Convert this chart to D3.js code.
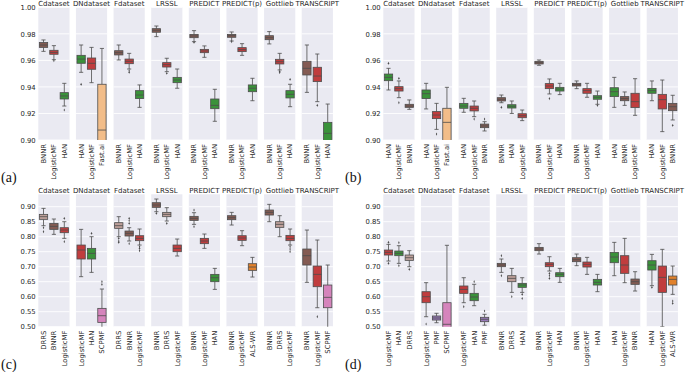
<!DOCTYPE html>
<html><head><meta charset="utf-8">
<script src="https://cdn.jsdelivr.net/npm/d3@7"></script>
<style>body{margin:0;background:#fff}svg{display:block}</style>
</head><body>
<svg id="c" width="685" height="372"></svg>
<script>
// ---------- DATA ----------
const facetNames = ["Cdataset","DNdataset","Fdataset","LRSSL","PREDICT","PREDICT(p)","Gottlieb","TRANSCRIPT"];
const ticksAB = [0.90,0.92,0.94,0.96,0.98,1.00];
const ticksCD = [0.50,0.55,0.60,0.65,0.70,0.75,0.80,0.85,0.90];

// stats: [whiskerLow, q1, median, q3, whiskerHigh]
const methodsA = [["BNNR","LogisticMF","HAN"],["HAN","LogisticMF","Fast.ai"],["BNNR","LogisticMF","HAN"],["BNNR","LogisticMF","HAN"],["BNNR","LogisticMF","HAN"],["BNNR","LogisticMF","HAN"],["BNNR","LogisticMF","HAN"],["BNNR","LogisticMF","HAN"]];
const statsA = [
 [[0.9668,0.9698,0.9716,0.9734,0.9754],[0.9605,0.9646,0.966,0.9676,0.9711],[0.9256,0.9309,0.9332,0.9357,0.9427]],
 [[0.951,0.9578,0.961,0.9638,0.9716],[0.9432,0.9533,0.9578,0.9618,0.9698],[0.85,0.88,0.9075,0.942,0.969]],
 [[0.9603,0.9641,0.9658,0.9673,0.9716],[0.9535,0.9575,0.9593,0.961,0.9653],[0.9246,0.9312,0.9339,0.9372,0.9415]],
 [[0.9779,0.9812,0.9827,0.9839,0.9859],[0.9515,0.955,0.9568,0.9583,0.9616],[0.939,0.9432,0.9452,0.9472,0.9535]],
 [[0.9741,0.9771,0.9784,0.9796,0.9824],[0.9623,0.9658,0.9671,0.9683,0.9709],[0.9141,0.9236,0.9261,0.9309,0.9382]],
 [[0.9746,0.9774,0.9786,0.9796,0.9814],[0.9638,0.9666,0.9681,0.9696,0.9726],[0.9296,0.9364,0.939,0.9415,0.9465]],
 [[0.9724,0.9756,0.9771,0.9786,0.9817],[0.9528,0.9573,0.959,0.9608,0.9653],[0.9251,0.9317,0.9344,0.9372,0.942]],
 [[0.9359,0.949,0.954,0.9593,0.9716],[0.9289,0.944,0.9482,0.9548,0.9648],[0.87,0.893,0.905,0.9133,0.9271]]
];
const outliersA = [
 [[],[0.9598],[0.9226]],[[0.942],[],[]],[[],[0.9522,0.951],[]],[[],[0.9503],[]],
 [[0.9736],[],[]],[[0.9741],[],[]],[[],[0.9518,0.9508],[0.9457]],[[],[0.9261],[]]
];

const methodsB = [["HAN","LogisticMF","BNNR"],["HAN","LogisticMF","Fast.ai"],["HAN","LogisticMF","BNNR"],["BNNR","HAN","LogisticMF"],["BNNR","LogisticMF","HAN"],["BNNR","LogisticMF","HAN"],["HAN","BNNR","LogisticMF"],["HAN","LogisticMF","BNNR"]];
const statsB = [
 [[0.9377,0.9447,0.9472,0.9497,0.954],[0.9319,0.9369,0.9387,0.9402,0.9445],[0.9231,0.9246,0.9256,0.9269,0.9302]],
 [[0.9234,0.9312,0.9349,0.9377,0.9427],[0.908,0.9161,0.9188,0.9214,0.9276],[0.86,0.885,0.9133,0.9239,0.9397]],
 [[0.9209,0.9239,0.9256,0.9276,0.9314],[0.9176,0.9219,0.9239,0.9256,0.9294],[0.9068,0.9093,0.9106,0.912,0.9138]],
 [[0.9281,0.9294,0.9307,0.9319,0.9339],[0.92,0.9241,0.9254,0.9266,0.9294],[0.9146,0.9168,0.9183,0.9198,0.9226]],
 [[0.9563,0.9573,0.9583,0.9593,0.9603],[0.9347,0.9387,0.9407,0.9425,0.946],[0.9342,0.9369,0.9384,0.9397,0.9427]],
 [[0.9387,0.9407,0.9417,0.9427,0.9445],[0.9322,0.9352,0.9372,0.9387,0.9427],[0.9269,0.9307,0.9322,0.9334,0.9369]],
 [[0.9246,0.9327,0.9364,0.9394,0.9472],[0.9261,0.9296,0.9312,0.9327,0.9362],[0.9186,0.9244,0.9289,0.9352,0.9462]],
 [[0.9296,0.9352,0.9372,0.9389,0.9445],[0.9063,0.9234,0.9304,0.9344,0.9452],[0.9151,0.9221,0.9251,0.9276,0.9337]]
];
const outliersB = [
 [[0.9578],[0.9465,0.9281],[]],[[],[0.9045],[]],[[],[0.9158],[0.9158]],[[0.9246],[],[]],
 [[],[0.9312],[]],[[],[],[0.926]],[[],[],[]],[[],[],[0.9111]]
];

const methodsC = [["DRRS","BNNR","LogisticMF"],["LogisticMF","HAN","SCPMF"],["DRRS","BNNR","LogisticMF"],["BNNR","DRRS","LogisticMF"],["BNNR","LogisticMF","HAN"],["BNNR","LogisticMF","ALS-WR"],["BNNR","DRRS","LogisticMF"],["BNNR","LogisticMF","SCPMF"]];
const statsC = [
 [[0.8367,0.8578,0.8667,0.8744,0.8944],[0.8078,0.8244,0.8344,0.8444,0.8589],[0.7944,0.8133,0.8222,0.83,0.85]],
 [[0.6667,0.7256,0.7556,0.7722,0.8244],[0.6811,0.7256,0.7444,0.7611,0.80],[0.45,0.5144,0.5367,0.5611,0.6256]],
 [[0.80,0.8278,0.8367,0.8467,0.8667],[0.7856,0.8022,0.8111,0.8189,0.83],[0.7722,0.7867,0.7944,0.8033,0.8256]],
 [[0.8833,0.8978,0.9056,0.9133,0.9256],[0.8522,0.8667,0.8744,0.8811,0.8967],[0.7356,0.75,0.7611,0.7722,0.7922]],
 [[0.8411,0.8544,0.8611,0.8678,0.88],[0.7611,0.7767,0.7856,0.7944,0.8089],[0.6244,0.65,0.6633,0.6744,0.6944]],
 [[0.8389,0.8567,0.8633,0.87,0.8811],[0.77,0.7878,0.7956,0.8033,0.82],[0.6656,0.6878,0.6989,0.71,0.7311]],
 [[0.85,0.8722,0.8811,0.8889,0.9078],[0.80,0.8311,0.8411,0.85,0.87],[0.7722,0.7867,0.7944,0.8044,0.8256]],
 [[0.6478,0.7056,0.7367,0.7589,0.8222],[0.5633,0.6333,0.6744,0.7022,0.7889],[0.45,0.5633,0.5978,0.6389,0.7056]]
];
const outliersC = [
 [[0.83,0.8167],[],[0.8611,0.7833]],[[],[0.8111],[0.65,0.641]],
 [[0.7944,0.7856,0.7811],[0.8611,0.8533,0.8444,0.7767],[0.7667,0.7611,0.7533]],
 [[0.8778],[0.8444],[]],[[0.8889,0.8333],[],[]],[[],[],[]],
 [[],[],[0.7667,0.7589,0.75]],[[],[0.5333],[]]
];

const methodsD = [["LogisticMF","HAN","DRRS"],["LogisticMF","PMF","SCPMF"],["LogisticMF","HAN","PMF"],["BNNR","DRRS","HAN"],["BNNR","LogisticMF","HAN"],["BNNR","LogisticMF","HAN"],["HAN","LogisticMF","BNNR"],["HAN","LogisticMF","ALS-WR"]];
const statsD = [
 [[0.7189,0.7389,0.7478,0.7556,0.7744],[0.7111,0.7367,0.7444,0.7522,0.77],[0.70,0.7211,0.73,0.7389,0.7533]],
 [[0.5333,0.58,0.60,0.6167,0.6467],[0.5133,0.5222,0.529,0.5357,0.5446],[0.45,0.48,0.508,0.58,0.7713]],
 [[0.58,0.6112,0.6243,0.6357,0.6633],[0.57,0.5867,0.599,0.6112,0.6413],[0.505,0.5167,0.5247,0.5313,0.5413]],
 [[0.6811,0.70,0.7056,0.7111,0.7256],[0.6144,0.65,0.6611,0.67,0.6944],[0.6144,0.6311,0.6389,0.6444,0.6633]],
 [[0.7422,0.7533,0.7589,0.7644,0.7767],[0.6856,0.70,0.7078,0.7133,0.7333],[0.6478,0.6667,0.6744,0.68,0.6944]],
 [[0.7033,0.7167,0.7233,0.73,0.7422],[0.6744,0.6989,0.7078,0.7156,0.7311],[0.6167,0.6389,0.6478,0.6578,0.6744]],
 [[0.67,0.7133,0.7322,0.7478,0.7811],[0.6467,0.6778,0.7056,0.7367,0.7944],[0.6189,0.6411,0.65,0.6589,0.6833]],
 [[0.6367,0.6889,0.7056,0.72,0.7411],[0.50,0.6144,0.6644,0.7022,0.7578],[0.6078,0.6389,0.6578,0.6689,0.7022]]
];
const outliersD = [
 [[0.7811,0.7111],[0.78,0.7033],[0.6911]],[[0.509],[],[]],[[0.5667],[0.65],[0.5523]],
 [[0.7367,0.67],[0.60],[0.6078,0.5944]],[[],[0.6778,0.67,0.6611],[]],[[],[],[]],
 [[],[],[]],[[0.6311],[],[0.5856,0.5778]]
];

const methodNames = ["BNNR","LogisticMF","HAN","Fast.ai","DRRS","SCPMF","ALS-WR","PMF"];
const methodColors = ["#845b53","#c03d3e","#3a923a","#f2bd89","#bea09a","#d584bc","#e1812c","#9678b8"];

// ---------- DRAW ----------
const svg = d3.select("#c");
const color = d3.scaleOrdinal().domain(methodNames).range(methodColors);
const lineCol = "#4d4d4d";
const FONT = "DejaVu Sans, sans-serif";

const panels = [
 {id:"a", label:"(a)", lx:1, ly:182, methods:methodsA, stats:statsA, outl:outliersA, dom:[0.90,1.00], ticks:ticksAB, x0:38.3, top:7.3, bottom:140},
 {id:"b", label:"(b)", lx:345, ly:182, methods:methodsB, stats:statsB, outl:outliersB, dom:[0.90,1.00], ticks:ticksAB, x0:383.3, top:7.3, bottom:140},
 {id:"c", label:"(c)", lx:1, ly:369, methods:methodsC, stats:statsC, outl:outliersC, dom:[0.50,0.9413], ticks:ticksCD, x0:38.3, top:194.3, bottom:326.7},
 {id:"d", label:"(d)", lx:345, ly:369, methods:methodsD, stats:statsD, outl:outliersD, dom:[0.50,0.9413], ticks:ticksCD, x0:383.3, top:194.3, bottom:326.7}
];

const step = 37.63, fw = 31.2;
const defs = svg.append("defs");
panels.forEach(p => {
  const g = svg.append("g");
  const y = d3.scaleLinear().domain(p.dom).range([p.bottom, p.top]);
  const fx = d3.scaleBand().domain(facetNames).range([p.x0, p.x0 + 7*step + fw]).paddingInner((step-fw)/step).paddingOuter(0);
  const bx = d3.scaleBand().domain([0,1,2]).range([0, fx.bandwidth()]).paddingInner(0.2).paddingOuter(0.1);
  const clipId = "clip-" + p.id;
  defs.append("clipPath").attr("id", clipId).attr("clipPathUnits","userSpaceOnUse").append("rect")
    .attr("x", p.x0 - 4).attr("y", p.top).attr("width", 8*step + 8).attr("height", p.bottom - p.top);

  const bg = g.append("g");
  const boxLayer = g.append("g").attr("clip-path",`url(#${clipId})`);
  const bwid = fx.bandwidth();
  facetNames.forEach((f, fi) => {
    const ox = fx(f);
    bg.append("rect").attr("x",ox).attr("y",p.top).attr("width",bwid).attr("height",p.bottom-p.top).attr("fill","#eaeaf2");
    p.ticks.forEach(t => {
      bg.append("line").attr("x1",ox).attr("x2",ox+bwid).attr("y1",y(t)).attr("y2",y(t))
        .attr("stroke","#ffffff").attr("stroke-width",0.9);
    });
    g.append("text").attr("x",ox+bwid/2).attr("y",p.top-1.6).attr("text-anchor","middle")
      .attr("font-family",FONT).attr("font-size",7).attr("fill","#262626").text(f);

    const bw = bx.bandwidth();
    p.methods[fi].forEach((m, mi) => {
      const s = p.stats[fi][mi];
      const left = ox + bx(mi);
      const cx = left + bw/2;
      const bgp = boxLayer.append("g");
      bgp.append("line").attr("x1",cx).attr("x2",cx).attr("y1",y(s[4])).attr("y2",y(s[3])).attr("stroke",lineCol).attr("stroke-width",0.8);
      bgp.append("line").attr("x1",cx).attr("x2",cx).attr("y1",y(s[1])).attr("y2",y(s[0])).attr("stroke",lineCol).attr("stroke-width",0.8);
      [s[0], s[4]].forEach(v => bgp.append("line").attr("x1",cx-bw/4).attr("x2",cx+bw/4).attr("y1",y(v)).attr("y2",y(v)).attr("stroke",lineCol).attr("stroke-width",0.8));
      bgp.append("rect").attr("x",left).attr("y",y(s[3])).attr("width",bw).attr("height",y(s[1])-y(s[3]))
        .attr("fill",color(m)).attr("stroke",lineCol).attr("stroke-width",0.8);
      bgp.append("line").attr("x1",left).attr("x2",left+bw).attr("y1",y(s[2])).attr("y2",y(s[2])).attr("stroke",lineCol).attr("stroke-width",0.8);
      p.outl[fi][mi].forEach(v => {
        bgp.append("path").attr("d", d3.symbol(d3.symbolDiamond, 3)()).attr("transform",`translate(${cx},${y(v)}) scale(0.7,1)`).attr("fill",lineCol);
      });
      g.append("text").attr("transform",`translate(${cx},${p.bottom+4}) rotate(-90)`).attr("dy","0.35em")
        .attr("text-anchor","end").attr("font-family",FONT).attr("font-size",6.8).attr("fill","#262626").text(m);
    });
  });

  const ax = g.append("g").attr("transform",`translate(${p.x0},0)`)
    .call(d3.axisLeft(y).tickValues(p.ticks).tickFormat(d3.format(".2f")).tickSize(0).tickPadding(2.6));
  ax.select(".domain").remove();
  ax.selectAll("text").attr("font-family",FONT).attr("font-size",6.8).attr("fill","#262626");

  svg.append("text").attr("x",p.lx).attr("y",p.ly).attr("font-family","Liberation Serif, Times New Roman, serif")
    .attr("font-size",14).attr("fill","#111").text(p.label);
});
</script>
</body></html>
